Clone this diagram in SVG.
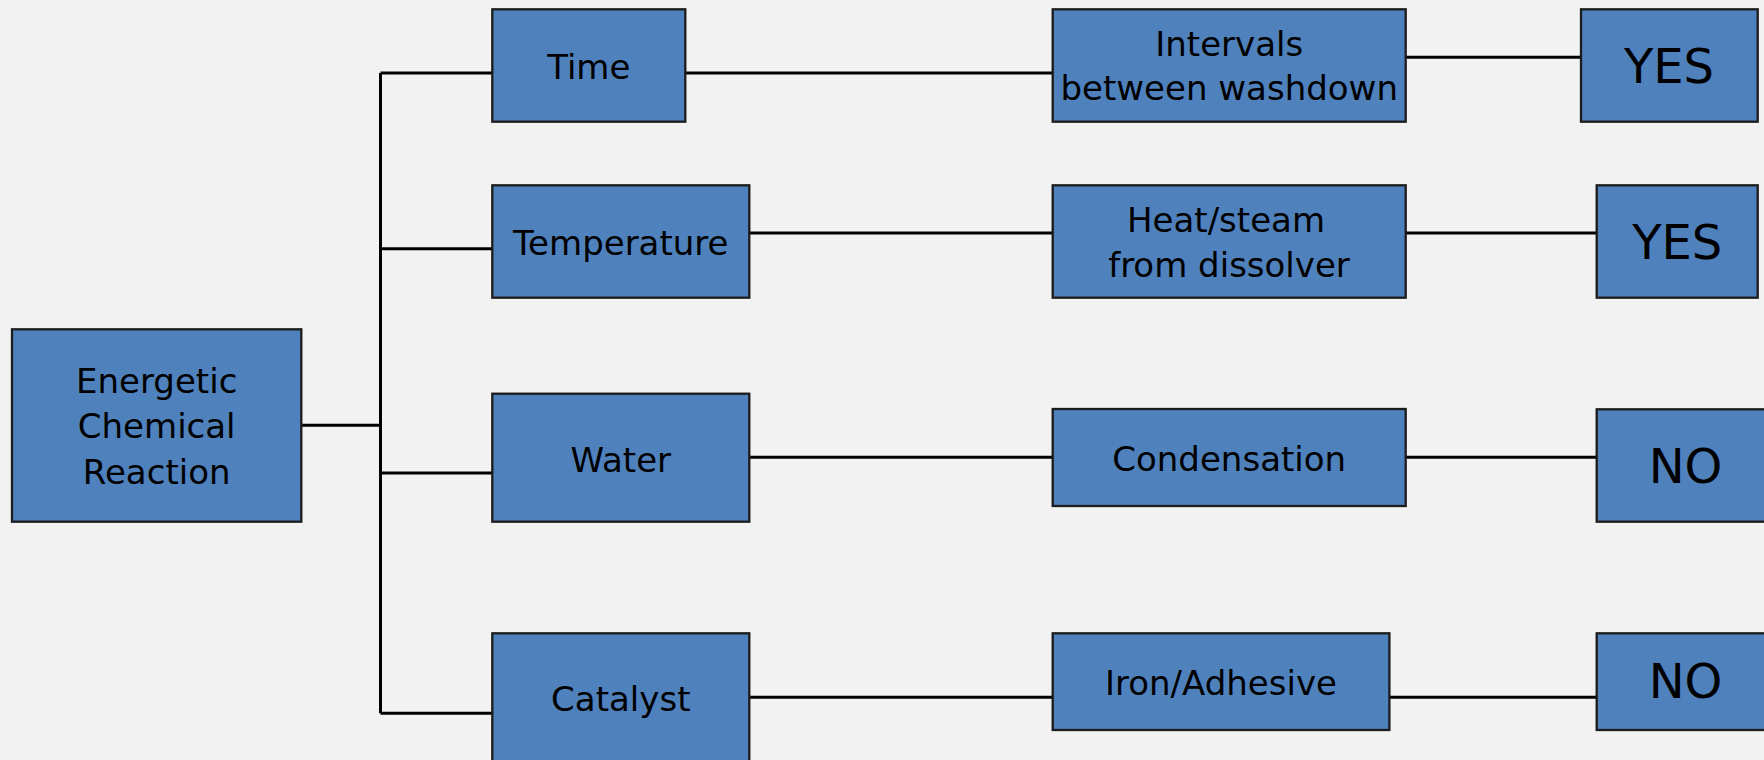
<svg xmlns="http://www.w3.org/2000/svg" width="1764" height="760" viewBox="0 0 1764 760">
<style>
.box{fill:#4F81BD;stroke:#1c1c1c;stroke-width:2.3}
.lbl{font-family:"DejaVu Sans","Liberation Sans",sans-serif;font-size:34px;fill:#000;text-anchor:middle}
.big{font-size:48px}
.conn{stroke:#000;stroke-width:3;fill:none}
</style>
<rect width="1764" height="760" fill="#F2F2F2"/>
<g id="connectors">
<path class="conn" d="M301.3 425.3H380.5M380.5 73V713.3M380.5 73H492.3M380.5 248.7H492.3M380.5 473H492.3M380.5 713.3H492.3"/>
<path class="conn" d="M685.3 73H1052.7M1405.7 57.3H1581M749.3 233H1052.7M1405.7 233H1596.7M749.3 457.3H1052.7M1405.7 457.3H1596.7M749.3 697.3H1052.7M1389.4 697.3H1596.7"/>
</g>
<g id="energetic">
<rect class="box" x="12" y="329.3" width="289.3" height="192.4"/>
<text class="lbl" x="156.7" y="392.7">Energetic</text>
<text class="lbl" x="156.7" y="438.3">Chemical</text>
<text class="lbl" x="156.7" y="484">Reaction</text>
</g>
<g id="time">
<rect class="box" x="492.3" y="9.3" width="193" height="112.4"/>
<text class="lbl" x="588.8" y="79">Time</text>
</g>
<g id="temperature">
<rect class="box" x="492.3" y="185.3" width="257" height="112.4"/>
<text class="lbl" x="620.8" y="255">Temperature</text>
</g>
<g id="water">
<rect class="box" x="492.3" y="393.7" width="257" height="128"/>
<text class="lbl" x="620.8" y="471.7">Water</text>
</g>
<g id="catalyst">
<rect class="box" x="492.3" y="633.3" width="257" height="160"/>
<text class="lbl" x="620.8" y="710.7">Catalyst</text>
</g>
<g id="intervals">
<rect class="box" x="1052.7" y="9.3" width="353" height="112.4"/>
<text class="lbl" x="1229.2" y="56">Intervals</text>
<text class="lbl" x="1229.2" y="100">between washdown</text>
</g>
<g id="heat">
<rect class="box" x="1052.7" y="185.3" width="353" height="112.4"/>
<text class="lbl" x="1226" y="232.3">Heat/steam</text>
<text class="lbl" x="1229" y="277.3">from dissolver</text>
</g>
<g id="condensation">
<rect class="box" x="1052.7" y="409" width="353" height="97"/>
<text class="lbl" x="1229.2" y="470.7">Condensation</text>
</g>
<g id="iron">
<rect class="box" x="1052.7" y="633.3" width="336.7" height="96.7"/>
<text class="lbl" x="1221" y="695">Iron/Adhesive</text>
</g>
<g id="yes1">
<rect class="box" x="1581" y="9.3" width="176.7" height="112.4"/>
<text class="lbl big" x="1669" y="82.7">YES</text>
</g>
<g id="yes2">
<rect class="box" x="1596.7" y="185.3" width="161" height="112.4"/>
<text class="lbl big" x="1677.2" y="259.3">YES</text>
</g>
<g id="no1">
<rect class="box" x="1596.7" y="409.3" width="177" height="112.4"/>
<text class="lbl big" x="1685.5" y="482.7">NO</text>
</g>
<g id="no2">
<rect class="box" x="1596.7" y="633.3" width="177" height="96.7"/>
<text class="lbl big" x="1685.5" y="698.3">NO</text>
</g>
</svg>
